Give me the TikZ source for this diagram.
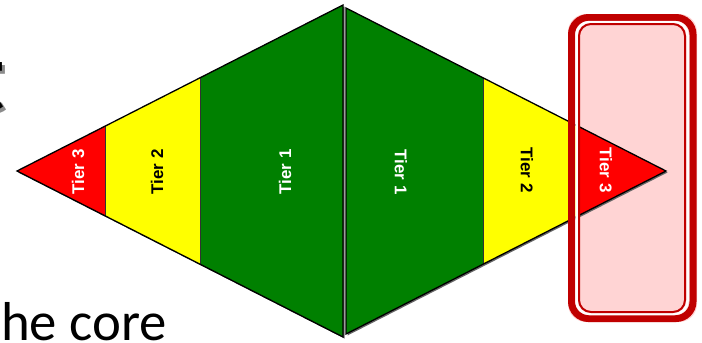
\documentclass[tikz,border=0pt]{standalone}
\usepackage{fontspec}
\setmainfont{Liberation Sans}
\newfontfamily\calfont{Carlito}
\usetikzlibrary{calc}
\definecolor{tgreen}{RGB}{0,128,0}
\definecolor{tyellow}{RGB}{255,255,0}
\definecolor{tred}{RGB}{255,0,0}
\definecolor{boxred}{RGB}{192,0,0}
\definecolor{boxpink}{RGB}{255,212,212}
\begin{document}
\begin{tikzpicture}[x=1bp,y=-1bp,
  outline/.style={draw=black, line width=1.3bp, line join=miter},
  sepline/.style={draw=black!80, line width=0.8bp},
  tierw/.style={text=white, inner sep=0, font=\bfseries\fontsize{17}{17}\selectfont},
  tierb/.style={text=black, inner sep=0, font=\bfseries\fontsize{17}{17}\selectfont},
  bigtext/.style={inner sep=0, anchor=base west}]
\useasboundingbox (0,0) rectangle (702,342);
\clip (0,0) rectangle (702,342);
\fill[white] (0,0) rectangle (702,342);
% highlight box fill
\fill[boxpink, rounded corners=18] (568,14) rectangle (697,322);
% left triangle
\coordinate (LA) at (17,171);
\coordinate (LT) at (343,5);
\coordinate (LB) at (343,337);
\coordinate (la1) at ($(LA)!0.26994!(LT)$);
\coordinate (lb1) at ($(LA)!0.26994!(LB)$);
\coordinate (la2) at ($(LA)!0.56135!(LT)$);
\coordinate (lb2) at ($(LA)!0.56135!(LB)$);
\fill[black!60] ($(LA)+(1.5,1.5)$) -- ($(LT)+(1.5,1.5)$) -- ($(LB)+(1.5,1.5)$) -- cycle;
\fill[tred] (LA) -- (la1) -- (lb1) -- cycle;
\fill[tyellow] (la1) -- (la2) -- (lb2) -- (lb1) -- cycle;
\fill[tgreen] (la2) -- (LT) -- (LB) -- (lb2) -- cycle;
\draw[sepline] (la1) -- (lb1);
\draw[sepline] (la2) -- (lb2);
\draw[outline] (LA) -- (LT) -- (LB) -- cycle;
% right triangle
\coordinate (RA) at (666,171);
\coordinate (RT) at (346,8);
\coordinate (RB) at (346,334);
\coordinate (ra1) at ($(RT)!0.428125!(RA)$);
\coordinate (rb1) at ($(RB)!0.428125!(RA)$);
\coordinate (ra2) at ($(RT)!0.721875!(RA)$);
\coordinate (rb2) at ($(RB)!0.721875!(RA)$);
\fill[black!60] ($(RA)+(1.5,1.5)$) -- ($(RT)+(1.5,1.5)$) -- ($(RB)+(1.5,1.5)$) -- cycle;
\fill[tgreen] (RT) -- (ra1) -- (rb1) -- (RB) -- cycle;
\fill[tyellow] (ra1) -- (ra2) -- (rb2) -- (rb1) -- cycle;
\fill[tred] (ra2) -- (RA) -- (rb2) -- cycle;
\draw[sepline] (ra1) -- (rb1);
\draw[sepline] (ra2) -- (rb2);
\draw[outline] (RT) -- (RA) -- (RB) -- cycle;
% labels
\node[tierw, rotate=90] (l3) at (78,172) {Tier 3};
\node[tierb, rotate=90] (l2) at (157,172) {Tier 2};
\node[tierw, rotate=90] (l1) at (285,172) {Tier 1};
\node[tierw, rotate=-90] (r1) at (401,172) {Tier 1};
\node[tierb, rotate=-90] (r2) at (527,170) {Tier 2};
\node[tierw, rotate=-90] (r3) at (606,170) {Tier 3};
% highlight box borders
\draw[boxred, line width=7bp, rounded corners=17] (571.5,17.5) rectangle (693,318.5);
\draw[white, line width=2.5bp, rounded corners=13] (576.5,22) rectangle (687.5,314);
\draw[boxred, line width=2bp, rounded corners=12] (579,24) rectangle (685,312);
% partial slide text
\node[bigtext, text=black!45, font=\calfont\bfseries\fontsize{100}{100}\selectfont] (tshadow) at (-27,113) {t};
\node[bigtext, text=black, font=\calfont\bfseries\fontsize{100}{100}\selectfont] (tt) at (-30,110) {t};
\node[bigtext, text=black, font=\calfont\fontsize{55}{55}\selectfont] (core) at (1,340) {he core};
\end{tikzpicture}
\end{document}
